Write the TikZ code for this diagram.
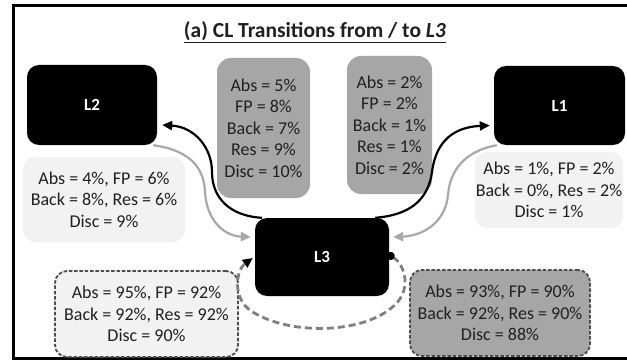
\documentclass[tikz,border=0pt]{standalone}
\usepackage{fontspec}
\setmainfont{Carlito}
\usetikzlibrary{arrows.meta,calc}
\definecolor{boxgray}{HTML}{A6A6A6}
\definecolor{boxlight}{HTML}{F2F2F2}
\definecolor{inkdark}{HTML}{202020}
\definecolor{dashgray}{HTML}{4D4D4D}
\definecolor{loopgray}{HTML}{7F7F7F}
\definecolor{arrowgray}{HTML}{A8A8A8}

\begin{document}
\begin{tikzpicture}[x=1pt,y=-1pt,
  level/.style={fill=black, rounded corners=12pt, inner sep=0pt, text=white,
    font=\fontsize{17}{20}\selectfont\bfseries},
  stats/.style={inner sep=0pt, align=center, text=inkdark, rounded corners=12pt,
    font=\fontsize{18}{21.5}\selectfont},
  darkstats/.style={stats, fill=boxgray},
  lightstats/.style={stats, fill=boxlight},
  dashedbox/.style={draw=dashgray, line width=1.8pt, dash pattern=on 3.5pt off 1.8pt},
  upflow/.style={draw=black, line width=2.2pt, -{Triangle[length=10pt,width=9pt]}},
  downflow/.style={draw=arrowgray, line width=2.2pt, -{Triangle[length=10pt,width=9pt]}},
  selfloop/.style={draw=loopgray, line width=2.8pt, dash pattern=on 7pt off 4pt,
    {Circle[length=8pt,color=black]}-{Triangle[length=10pt,width=9pt,color=black]}}
]
\useasboundingbox (0,0) rectangle (627,361);
\fill[white] (0,0) rectangle (627,361);

% outer frame (open on the right)
\draw[line width=3pt] (627,5.5) -- (13.5,5.5) -- (13.5,358.5) -- (627,358.5);

% title
\node[inner sep=0pt, anchor=base, text=inkdark, font=\fontsize{21.5}{24}\selectfont\bfseries]
  (title) at (315,38) {(a) CL Transitions from / to \textit{L3}};
\draw[inkdark, line width=1.6pt] ([yshift=-4.5pt]title.base west) -- ([yshift=-4.5pt]title.base east);

% levels
\node[level, minimum width=130pt, minimum height=80pt] (l2) at (92,105) {L2};
\node[level, minimum width=131pt, minimum height=79pt] (l1) at (559.5,105.5) {L1};
\node[level, minimum width=134pt, minimum height=78pt] (l3) at (322,257) {L3};

% transition statistics
\node[darkstats, minimum width=93pt, minimum height=140pt, rounded corners=14pt] (s32) at (263.5,128)
  {Abs = 5\%\\FP = 8\%\\Back = 7\%\\Res = 9\%\\Disc = 10\%};
\node[darkstats, minimum width=85pt, minimum height=138pt, rounded corners=14pt] (s31) at (389.5,125)
  {Abs = 2\%\\FP = 2\%\\Back = 1\%\\Res = 1\%\\Disc = 2\%};
\node[lightstats, minimum width=162pt, minimum height=85pt] (s23) at (104,199.5)
  {Abs = 4\%, FP = 6\%\\Back = 8\%, Res = 6\%\\Disc = 9\%};
\node[lightstats, minimum width=148pt, minimum height=76pt] (s13) at (549,190)
  {Abs = 1\%, FP = 2\%\\Back = 0\%, Res = 2\%\\Disc = 1\%};
\node[lightstats, dashedbox, minimum width=183pt, minimum height=86pt] (s33a) at (146.5,314)
  {Abs = 95\%, FP = 92\%\\Back = 92\%, Res = 92\%\\Disc = 90\%};
\node[darkstats, dashedbox, minimum width=180pt, minimum height=86pt] (s33b) at (500,313)
  {Abs = 93\%, FP = 90\%\\Back = 92\%, Res = 90\%\\Disc = 88\%};

% L3 -> L2 and L2 -> L3
\draw[upflow] ([xshift=7pt]l3.north west)
  .. controls (230,216) and (212,198) .. (212,172)
  .. controls (212,148) and (195,127) .. ([xshift=5pt,yshift=-20pt]l2.east);
\draw[downflow] ([xshift=-4pt]l2.south east)
  .. controls (188,150) and (204,166) .. (205,192)
  .. controls (207,222) and (225,236) .. ([xshift=-4pt,yshift=20pt]l3.west);

% L3 -> L1 and L1 -> L3
\draw[upflow] ([xshift=-14pt]l3.north east)
  .. controls (410,215) and (428,200) .. (432,172)
  .. controls (436,140) and (455,127) .. ([xshift=-4pt,yshift=-20pt]l1.west);
\draw[downflow] ([xshift=3pt]l1.south west)
  .. controls (465,151) and (450,170) .. (448,195)
  .. controls (445,225) and (420,236) .. ([xshift=4pt,yshift=20pt]l3.east);

% staying in L3
\draw[selfloop] ([xshift=-2pt,yshift=3pt]l3.east)
  .. controls (405,264) and (414,292) .. (390,309)
  .. controls (360,333) and (290,336) .. (251,311)
  .. controls (232,298) and (236,270) .. ([xshift=-2pt,yshift=-1pt]l3.west);
\end{tikzpicture}
\end{document}
